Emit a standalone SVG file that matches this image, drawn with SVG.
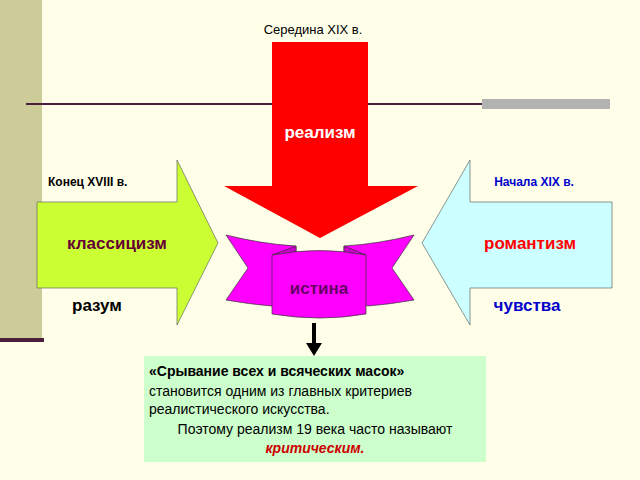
<svg xmlns="http://www.w3.org/2000/svg" width="640" height="480" viewBox="0 0 640 480">
<style>
text{font-family:"Liberation Sans",Arial,sans-serif;font-weight:bold}
.n{font-weight:normal}
</style>
<rect width="640" height="480" fill="#FFFFE9"/>
<rect x="0" y="0" width="42" height="340" fill="#CCCC99"/>
<rect x="0" y="338" width="44" height="4" fill="#4B1E3B"/>
<line x1="26" y1="104" x2="608" y2="104" stroke="#4B1E3B" stroke-width="2"/>
<rect x="482" y="99" width="128" height="10" fill="#B2B2B2"/>
<g id="realism">
<polygon points="272,42 368,42 368,186 418,186 320,238 224,186 272,186" fill="#FF0000"/>
<text x="320" y="138" font-size="17" fill="#FFFFFF" text-anchor="middle">реализм</text>
</g>
<g id="klass">
<polygon points="37,202 177,202 177,160 218,243 177,325 177,288 37,288" fill="#CCFF33" stroke="#666" stroke-width="0.7"/>
<text x="117" y="249" font-size="17" fill="#660033" text-anchor="middle">классицизм</text>
<text x="48" y="186" font-size="12" fill="#000">Конец XVIII в.</text>
<text x="97" y="311" font-size="17" fill="#000" text-anchor="middle">разум</text>
</g>
<g id="roman">
<polygon points="612,202 470,202 470,160 422,243 470,325 470,288 612,288" fill="#CCFFFF" stroke="#666" stroke-width="0.7"/>
<text x="530" y="249" font-size="17" fill="#FF0000" text-anchor="middle">романтизм</text>
<text x="534" y="186" font-size="12" fill="#0000CC" text-anchor="middle">Начала XIX в.</text>
<text x="527" y="311" font-size="17" fill="#0000CC" text-anchor="middle">чувства</text>
</g>
<g id="istina" stroke="#333" stroke-width="0.7" fill="#FF00FF">
<path d="M226,235 Q262,244 296,246 L296,300 L272,306 Q248,304 226,300 L248,268 Z"/>
<path d="M414,235 Q378,244 344,246 L344,300 L368,306 Q392,304 414,300 L392,268 Z"/>
<path d="M296,246 L296,252 L272,255 Z" fill="#CC00CC"/>
<path d="M344,246 L344,252 L366,255 Z" fill="#CC00CC"/>
<path d="M272,255 Q320,246 366,255 L366,314 Q320,322 272,314 Z"/>
<text x="319" y="294" font-size="17" fill="#660066" stroke="none" text-anchor="middle">истина</text>
</g>
<g id="connectors">
<line x1="314" y1="323" x2="314" y2="345" stroke="#000" stroke-width="4"/>
<polygon points="306,343 322,343 314,356" fill="#000"/>
</g>
<g id="note">
<rect x="144" y="356" width="342" height="106" fill="#CCFFCC"/>
<text x="149" y="376" font-size="14" fill="#000">«Срывание всех и всяческих масок»</text>
<text class="n" x="149" y="396" font-size="14" fill="#000">становится одним из главных критериев</text>
<text class="n" x="149" y="414" font-size="14" fill="#000">реалистического искусства.</text>
<text class="n" x="315" y="434" font-size="14" fill="#000" text-anchor="middle">Поэтому реализм 19 века часто называют</text>
<text x="315" y="453" font-size="14" fill="#CC0000" font-style="italic" text-anchor="middle">критическим.</text>
</g>
<text class="n" x="313" y="34" font-size="13" fill="#000" text-anchor="middle">Середина XIX в.</text>
</svg>
